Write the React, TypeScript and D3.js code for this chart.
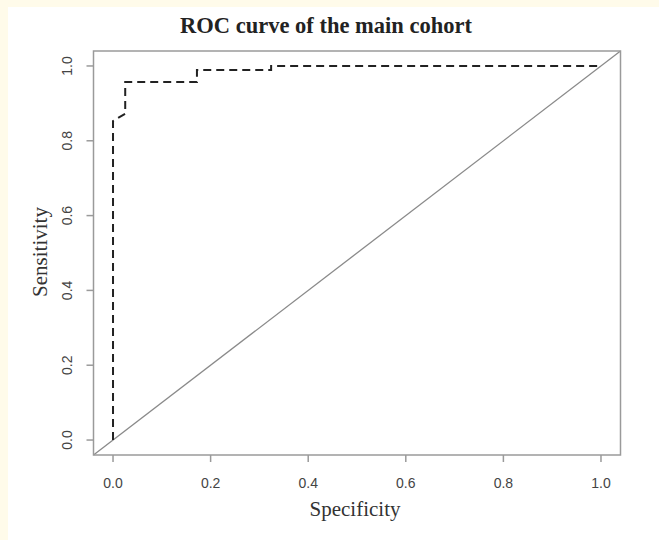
import * as d3 from 'd3'

// ROC curve points (specificity axis as drawn, sensitivity)
const rocX = [0, 0, 0.025, 0.025, 0.172, 0.172, 0.324, 0.324, 1.0]
const rocY = [0, 0.853, 0.872, 0.957, 0.957, 0.989, 0.989, 1.0, 1.0]
const xTicks = [0, 0.2, 0.4, 0.6, 0.8, 1.0]
const yTicks = [0, 0.2, 0.4, 0.6, 0.8, 1.0]

const W = 659
const H = 540
const BOX = { left: 93.5, right: 620.5, top: 51, bottom: 455 }

export default function App() {
  // R-style 4% axis extension
  const x = d3.scaleLinear().domain([-0.04, 1.04]).range([BOX.left, BOX.right])
  const y = d3.scaleLinear().domain([-0.04, 1.04]).range([BOX.bottom, BOX.top])

  const pts: [number, number][] = rocX.map((v, i) => [v, rocY[i]])
  const line = d3.line<[number, number]>().x(d => x(d[0])).y(d => y(d[1]))
  const rocPath = line(pts) || ''

  const axisCol = '#9a9a9a'
  const tickFont = 'Liberation Sans, Arial, sans-serif'
  const serif = 'Liberation Serif, Times New Roman, serif'

  return (
    <div style={{ position: 'fixed', left: 0, top: 0, width: W, height: H }}>
      <svg width={W} height={H} style={{ display: 'block' }}>
        <rect x={0} y={0} width={W} height={H} fill="#fffbea" />
        <rect x={8} y={7} width={W - 8} height={H - 7} fill="#ffffff" />

        {/* Title */}
        <text x={326} y={33} textAnchor="middle"
          fontFamily={serif} fontWeight="bold" fontSize={22.5} fill="#222">
          ROC curve of the main cohort
        </text>

        {/* Diagonal reference line */}
        <line x1={x(-0.04)} y1={y(-0.04)} x2={x(1.04)} y2={y(1.04)}
          stroke="#8a8a8a" strokeWidth={1.3} />

        {/* ROC curve */}
        <path d={rocPath} fill="none" stroke="#222" strokeWidth={2}
          strokeDasharray="8,5" />

        {/* Box */}
        <rect x={BOX.left} y={BOX.top} width={BOX.right - BOX.left} height={BOX.bottom - BOX.top}
          fill="none" stroke={axisCol} strokeWidth={1.5} />

        {/* X axis ticks */}
        {xTicks.map(t => (
          <g key={'x' + t}>
            <line x1={x(t)} x2={x(t)} y1={BOX.bottom} y2={BOX.bottom + 7} stroke={axisCol} strokeWidth={1.5} />
            <text x={x(t)} y={488} textAnchor="middle" fontFamily={tickFont} fontSize={14} fill="#444">
              {t.toFixed(1)}
            </text>
          </g>
        ))}

        {/* Y axis ticks */}
        {yTicks.map(t => (
          <g key={'y' + t}>
            <line x1={BOX.left - 7} x2={BOX.left} y1={y(t)} y2={y(t)} stroke={axisCol} strokeWidth={1.5} />
            <text transform={`translate(72,${y(t)}) rotate(-90)`} textAnchor="middle"
              fontFamily={tickFont} fontSize={14} fill="#444">
              {t.toFixed(1)}
            </text>
          </g>
        ))}

        {/* Axis labels */}
        <text x={355} y={516} textAnchor="middle"
          fontFamily={serif} fontSize={21} fill="#333">Specificity</text>
        <text transform={`translate(47,252) rotate(-90)`} textAnchor="middle"
          fontFamily={serif} fontSize={21} fill="#333">Sensitivity</text>
      </svg>
    </div>
  )
}
